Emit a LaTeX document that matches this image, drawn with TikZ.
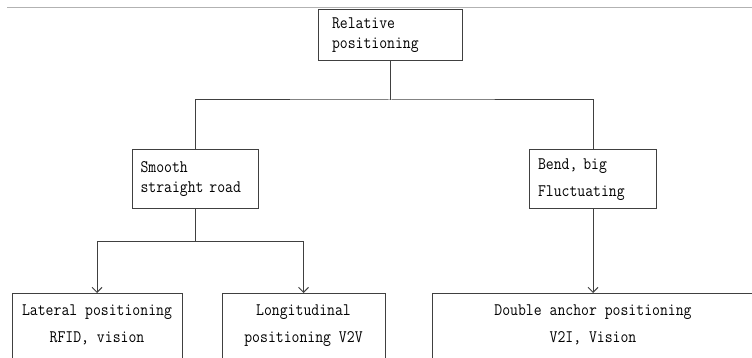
\documentclass[tikz,border=0pt]{standalone}
\usepackage{fontspec}
\newfontfamily\boxfont[FakeStretch=0.87]{Latin Modern Mono}
\usetikzlibrary{arrows.meta}

\tikzset{
  stage/.style={draw=black!75, line width=1pt, align=left, inner xsep=8.5pt, inner ysep=0pt,
    font=\boxfont\fontsize{17.6}{20}\selectfont},
  method/.style={draw=black!75, line width=1pt, align=center, anchor=north, inner sep=0pt,
    minimum height=88pt, font=\boxfont\fontsize{17.6}{27}\selectfont},
  link/.style={draw=black!75, line width=1pt},
  tip/.style={link, -{Straight Barb[length=5pt,width=10pt]}}
}

\begin{document}
\begin{tikzpicture}[x=1pt, y=-1pt]
  \useasboundingbox (0,0) rectangle (752,358);
  \clip (0,0) rectangle (752,358);
  \draw[black!30, line width=1pt] (7,7.3) -- (752,7.3);

  \node[stage, inner xsep=14pt, text width=116pt, minimum height=51pt] (rel) at (390,34.7) {Relative\\positioning};
  \node[stage, text width=109pt, minimum height=59pt] (smooth) at (195,179.5) {Smooth\\straight road};
  \node[stage, text width=110pt, minimum height=59pt, font=\boxfont\fontsize{17.6}{27}\selectfont] (bend) at (593,179.5) {Bend, big\\Fluctuating};

  \node[method, minimum width=170pt] (lat) at (97,293) {Lateral positioning\\RFID, vision\\\mbox{}};
  \node[method, minimum width=163pt] (lon) at (303.5,293) {Longitudinal\\positioning V2V\\\mbox{}};
  \node[method, minimum width=322pt] (dbl) at (593,293) {Double anchor positioning\\V2I, Vision\\\mbox{}};

  \coordinate (split) at (390,100);
  \coordinate (fork) at (195,241);

  \draw[link] (rel.south) -- (split);
  \draw[link] (smooth.north) |- (split) -| (bend.north);
  \draw[link] (smooth.south) -- (fork);
  \draw[tip] (fork) -| (lat.north);
  \draw[tip] (fork) -| (lon.north);
  \draw[tip] (bend.south) -- (dbl.north);
\end{tikzpicture}
\end{document}
